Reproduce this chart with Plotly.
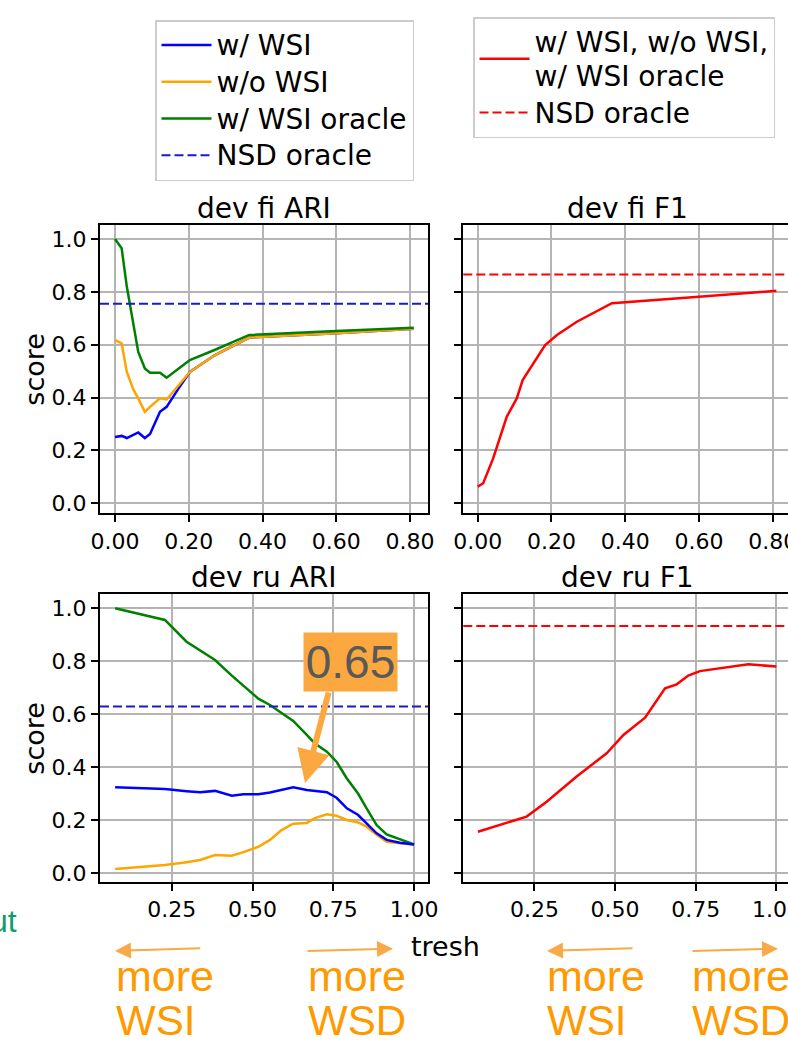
import plotly.graph_objects as go

W, H = 788, 1046

# ---------------- data ----------------
fi_tresh = [0.0, 0.018, 0.032, 0.05, 0.063, 0.081, 0.095, 0.122, 0.14, 0.172,
            0.203, 0.27, 0.364, 0.6, 0.81]
fi_ari_wsi = [0.251, 0.255, 0.247, 0.258, 0.268, 0.247, 0.262, 0.346, 0.365, 0.434,
              0.497, 0.56, 0.627, 0.643, 0.66]
fi_ari_nowsi = [0.617, 0.605, 0.497, 0.43, 0.397, 0.346, 0.365, 0.397, 0.393, 0.447,
                0.497, 0.56, 0.627, 0.643, 0.66]
fi_ari_oracle = [1.0, 0.965, 0.82, 0.674, 0.573, 0.51, 0.494, 0.494, 0.475, 0.509,
                 0.542, 0.58, 0.637, 0.652, 0.664]
fi_f1_tresh = [0.0, 0.015, 0.042, 0.079, 0.106, 0.122, 0.183, 0.215, 0.269, 0.364, 0.6, 0.81]
fi_f1 = [0.063, 0.076, 0.17, 0.328, 0.397, 0.466, 0.599, 0.637, 0.687, 0.757, 0.782, 0.804]
fi_ari_nsd = 0.755
fi_f1_nsd = 0.866

ru_tresh = [0.075, 0.229, 0.296, 0.338, 0.384, 0.436, 0.472, 0.518, 0.554, 0.59, 0.626,
            0.668, 0.693, 0.73, 0.76, 0.792, 0.827, 0.853, 0.884, 0.915, 0.956, 1.0]
ru_ari_wsi = [0.325, 0.318, 0.31, 0.306, 0.311, 0.293, 0.298, 0.298, 0.305, 0.315, 0.325,
              0.314, 0.31, 0.306, 0.285, 0.245, 0.22, 0.189, 0.151, 0.126, 0.115, 0.109]
ru_ari_nowsi = [0.016, 0.031, 0.042, 0.05, 0.069, 0.066, 0.08, 0.1, 0.126, 0.163, 0.187,
                0.19, 0.208, 0.223, 0.217, 0.201, 0.192, 0.176, 0.145, 0.119, 0.113, 0.109]
ru_ari_oracle = [1.0, 0.956, 0.874, 0.841, 0.805, 0.746, 0.707, 0.659, 0.635, 0.605, 0.575,
                 0.522, 0.49, 0.459, 0.421, 0.358, 0.30, 0.245, 0.182, 0.147, 0.128, 0.109]
ru_f1_tresh = [0.075, 0.226, 0.288, 0.381, 0.474, 0.526, 0.593, 0.624, 0.655, 0.691,
               0.727, 0.763, 0.825, 0.913, 1.0]
ru_f1 = [0.157, 0.214, 0.27, 0.365, 0.453, 0.522, 0.587, 0.642, 0.698, 0.713,
         0.746, 0.763, 0.774, 0.789, 0.78]
ru_ari_nsd = 0.629
ru_f1_nsd = 0.933

titles = ["dev fi ARI", "dev fi F1", "dev ru ARI", "dev ru F1"]
top_ticks = [0.0, 0.2, 0.4, 0.6, 0.8]
bottom_ticks = [0.25, 0.5, 0.75, 1.0]
y_ticks = [0.0, 0.2, 0.4, 0.6, 0.8, 1.0]
annot_value = "0.65"

# ---------------- style ----------------
FONT = "DejaVu Sans"
SLIDE = "Liberation Sans, Arial, sans-serif"
BLUE, ORANGE, GREEN, RED = "#0000ff", "#ffa500", "#008000", "#ff0000"
NSD_BLUE = "#1a1acc"
LW = 2.5
DASH = "9px,4px"


def px(x):
    return x / W


def py(y):
    return 1 - y / H


def big(label):
    # legend glyphs drawn at 28px while rows are spaced for a 26px font
    return "<br>".join(f'<span style="font-size:28px">{part}</span>'
                       for part in label.split("<br>"))


fig = go.Figure()

# top-left: dev fi ARI
fig.add_trace(go.Scatter(x=fi_tresh, y=fi_ari_wsi, mode="lines", name=big("w/ WSI"),
                         line=dict(color=BLUE, width=LW), xaxis="x", yaxis="y", legend="legend"))
fig.add_trace(go.Scatter(x=fi_tresh, y=fi_ari_nowsi, mode="lines", name=big("w/o WSI"),
                         line=dict(color=ORANGE, width=LW), xaxis="x", yaxis="y", legend="legend"))
fig.add_trace(go.Scatter(x=fi_tresh, y=fi_ari_oracle, mode="lines", name=big("w/ WSI oracle"),
                         line=dict(color=GREEN, width=LW), xaxis="x", yaxis="y", legend="legend"))
fig.add_trace(go.Scatter(x=[None], y=[None], mode="lines", name=big("NSD oracle"),
                         line=dict(color=NSD_BLUE, width=2, dash=DASH), xaxis="x", yaxis="y",
                         legend="legend"))

# top-right: dev fi F1
fig.add_trace(go.Scatter(x=fi_f1_tresh, y=fi_f1, mode="lines",
                         name=big("w/ WSI, w/o WSI,<br>w/ WSI oracle"),
                         line=dict(color=RED, width=LW), xaxis="x2", yaxis="y2", legend="legend2"))
fig.add_trace(go.Scatter(x=[None], y=[None], mode="lines", name=big("NSD oracle"),
                         line=dict(color=RED, width=2, dash=DASH), xaxis="x2", yaxis="y2",
                         legend="legend2"))

# bottom-left: dev ru ARI
for ys, c in [(ru_ari_nowsi, ORANGE), (ru_ari_oracle, GREEN), (ru_ari_wsi, BLUE)]:
    fig.add_trace(go.Scatter(x=ru_tresh, y=ys, mode="lines", showlegend=False,
                             line=dict(color=c, width=LW), xaxis="x3", yaxis="y3"))
# bottom-right: dev ru F1
fig.add_trace(go.Scatter(x=ru_f1_tresh, y=ru_f1, mode="lines", showlegend=False,
                         line=dict(color=RED, width=LW), xaxis="x4", yaxis="y4"))

# oracle horizontal lines
for ax, val, col in [("", fi_ari_nsd, NSD_BLUE), ("2", fi_f1_nsd, RED),
                     ("3", ru_ari_nsd, NSD_BLUE), ("4", ru_f1_nsd, RED)]:
    fig.add_shape(type="line", xref=f"x{ax} domain", yref=f"y{ax}", x0=0, x1=1,
                  y0=val, y1=val, line=dict(color=col, width=2, dash=DASH))

axis_common = dict(showline=True, linecolor="black", linewidth=2, ticks="outside",
                   ticklen=7, tickwidth=2, tickcolor="black", showgrid=True,
                   gridcolor="#b4b4b4", gridwidth=1.5, zeroline=False, automargin=False,
                   ticklabeloverflow="allow",
                   tickfont=dict(family=FONT, size=22, color="black"))

# pixel geometry of the axes boxes
L_dom = [px(100), px(428.3)]
R_dom = [px(463.3), 1.0]
T_dom = [py(513.3), py(225)]
B_dom = [py(881.7), py(594.3)]

legend_common = dict(xanchor="left", yanchor="top", bgcolor="white",
                     bordercolor="#cccccc", borderwidth=1.5, itemwidth=50,
                     font=dict(family=FONT, size=26, color="black"), tracegroupgap=0)

fig.update_layout(
    width=W, height=H, margin=dict(l=0, r=0, t=0, b=0, autoexpand=False),
    paper_bgcolor="white", plot_bgcolor="white",
    xaxis=dict(domain=L_dom, anchor="y", range=[-0.0407, 0.8496], tickvals=top_ticks,
               tickformat=".2f", mirror=True, **axis_common),
    yaxis=dict(domain=T_dom, anchor="x", range=[-0.0378, 1.053], tickvals=y_ticks,
               tickformat=".1f", mirror=True, **axis_common),
    xaxis2=dict(domain=R_dom, anchor="y2", range=[-0.039, 0.8415], tickvals=top_ticks,
                tickformat=".2f", mirror=True, **axis_common),
    yaxis2=dict(domain=T_dom, anchor="x2", range=[-0.0378, 1.053], tickvals=y_ticks,
                showticklabels=False, mirror=False, **axis_common),
    xaxis3=dict(domain=L_dom, anchor="y3", range=[0.0282, 1.0439], tickvals=bottom_ticks,
                tickformat=".2f", mirror=True, **axis_common),
    yaxis3=dict(domain=B_dom, anchor="x3", range=[-0.0317, 1.0528], tickvals=y_ticks,
                tickformat=".1f", mirror=True, **axis_common),
    xaxis4=dict(domain=R_dom, anchor="y4", range=[0.0297, 1.036], tickvals=bottom_ticks,
                tickformat=".2f", mirror=True, **axis_common),
    yaxis4=dict(domain=B_dom, anchor="x4", range=[-0.0317, 1.0528], tickvals=y_ticks,
                showticklabels=False, mirror=False, **axis_common),
    legend=dict(x=px(155), y=py(20), **legend_common),
    legend2=dict(x=px(473), y=py(17), **legend_common),
)

ann = []
# subplot titles
for t, cx, base in [(titles[0], 264, 218), (titles[1], 627, 218),
                    (titles[2], 264, 587), (titles[3], 627, 587)]:
    ann.append(dict(text=t, x=px(cx), y=py(base - 0.346 * 28), xref="paper", yref="paper",
                    xanchor="center", yanchor="middle", showarrow=False,
                    font=dict(family=FONT, size=28, color="black")))
# y labels
for cy in [369, 738]:
    ann.append(dict(text="score", x=px(43 - 0.346 * 27), y=py(cy), xref="paper", yref="paper",
                    xanchor="center", yanchor="middle", showarrow=False, textangle=-90,
                    font=dict(family=FONT, size=27, color="black")))
# x label
ann.append(dict(text="tresh", x=px(445), y=py(956 - 0.346 * 27), xref="paper", yref="paper",
                xanchor="center", yanchor="middle", showarrow=False,
                font=dict(family=FONT, size=27, color="black")))
# 0.65 callout box
ann.append(dict(text=annot_value, x=px(350), y=py(661.7), xref="paper", yref="paper",
                xanchor="center", yanchor="middle", showarrow=False, width=93, height=58,
                borderpad=0, bgcolor="#fca840",
                font=dict(family=SLIDE, size=46, color="#595959")))
ann.append(dict(text="", x=px(305), y=py(783), xref="paper", yref="paper",
                ax=329 - 305, ay=691 - 783, axref="pixel", ayref="pixel",
                showarrow=True, arrowhead=2, arrowsize=1.1, arrowwidth=6,
                arrowcolor="#fca840"))
# direction arrows and captions
for tail, tip in [((201.7, 948.3), (115, 951)), ((306, 951), (393, 948.7)),
                  ((634, 948.3), (547, 951)), ((691, 951), (778, 948.7))]:
    ann.append(dict(text="", x=px(tip[0]), y=py(tip[1]), xref="paper", yref="paper",
                    ax=tail[0] - tip[0], ay=tail[1] - tip[1], showarrow=True,
                    arrowhead=2, arrowsize=1.6, arrowwidth=2, arrowcolor="#f8a948"))
for left, word in [(114, "WSI"), (306, "WSD"), (545, "WSI"), (690, "WSD")]:
    ann.append(dict(text="more", x=px(left), y=py(991 - 0.346 * 43), xref="paper",
                    yref="paper", xanchor="left", yanchor="middle", showarrow=False,
                    font=dict(family=SLIDE, size=43, color="#ff9900")))
    ann.append(dict(text=word, x=px(left), y=0, xref="paper",
                    yref="paper", xanchor="left", yanchor="bottom", showarrow=False,
                    font=dict(family=SLIDE, size=42, color="#ff9900")))
ann.append(dict(text="ut", x=px(19), y=py(932 - 0.346 * 32), xref="paper", yref="paper",
                xanchor="right", yanchor="middle", showarrow=False,
                font=dict(family=SLIDE, size=32, color="#0f9d6e")))

fig.update_layout(annotations=ann)

fig.write_html("out.html", config={"displayModeBar": False},
               post_script="document.body.style.margin='0px';"
               "document.body.style.overflow='hidden';")
